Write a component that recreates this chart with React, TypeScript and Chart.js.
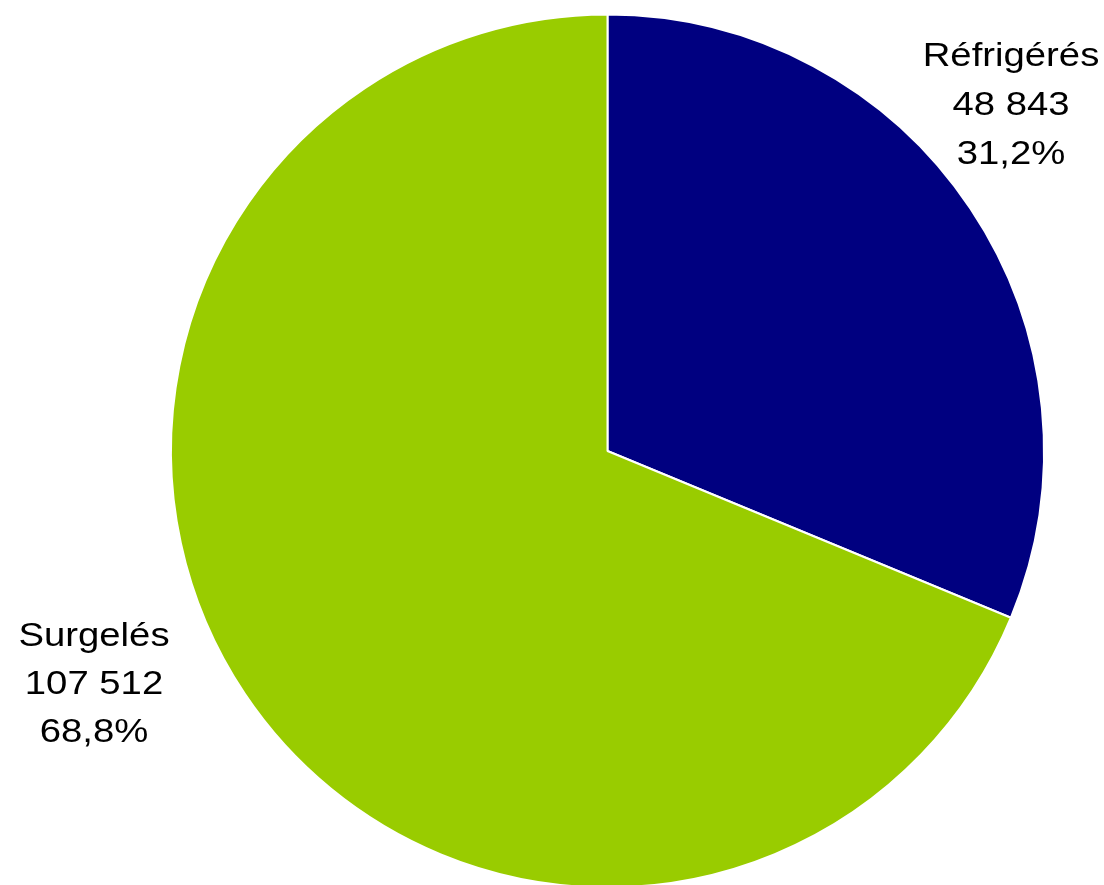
import React, { useEffect, useRef } from "react";
import { Chart, registerables } from "chart.js";

Chart.register(...registerables);

const categories = ["Réfrigérés", "Surgelés"];
const values = [48843, 107512];
const valueLabels = ["48 843", "107 512"];
const percentLabels = ["31,2%", "68,8%"];
const colors = ["#000080", "#99CC00"];

const labelPlugin = {
  id: "pieLabels",
  afterDraw(chart: any) {
    const ctx = chart.ctx;
    const pos = [
      { x: 1011, y: 66, dy: 49 },
      { x: 94, y: 646, dy: 48 },
    ];
    const sx = 1.16;
    ctx.save();
    ctx.fillStyle = "#000000";
    ctx.font = '33px "Liberation Sans", Arial, sans-serif';
    ctx.textAlign = "center";
    ctx.textBaseline = "alphabetic";
    categories.forEach((c, i) => {
      const lines = [c, valueLabels[i], percentLabels[i]];
      lines.forEach((t, j) => {
        ctx.save();
        ctx.translate(pos[i].x, pos[i].y + j * pos[i].dy);
        ctx.scale(sx, 1);
        ctx.fillText(t, 0, 0);
        ctx.restore();
      });
    });
    ctx.restore();
  },
};

export default function App() {
  const ref = useRef<HTMLCanvasElement>(null);
  useEffect(() => {
    document.body.style.margin = "0";
    const chart = new Chart(ref.current!, {
      type: "pie",
      data: {
        labels: categories,
        datasets: [
          {
            data: values,
            backgroundColor: colors,
            borderColor: "#ffffff",
            borderWidth: 2,
          },
        ],
      },
      options: {
        responsive: false,
        animation: false,
        layout: { padding: { left: 170, right: 59, top: 13, bottom: 13 } },
        plugins: {
          legend: { display: false },
          tooltip: { enabled: false },
        },
      },
      plugins: [labelPlugin],
    });
    return () => chart.destroy();
  }, []);
  return (
    <div style={{ position: "absolute", left: 0, top: 0, width: 1104, height: 885, overflow: "hidden", background: "#fff" }}>
      <canvas ref={ref} width={1104} height={902} style={{ display: "block" }} />
    </div>
  );
}
